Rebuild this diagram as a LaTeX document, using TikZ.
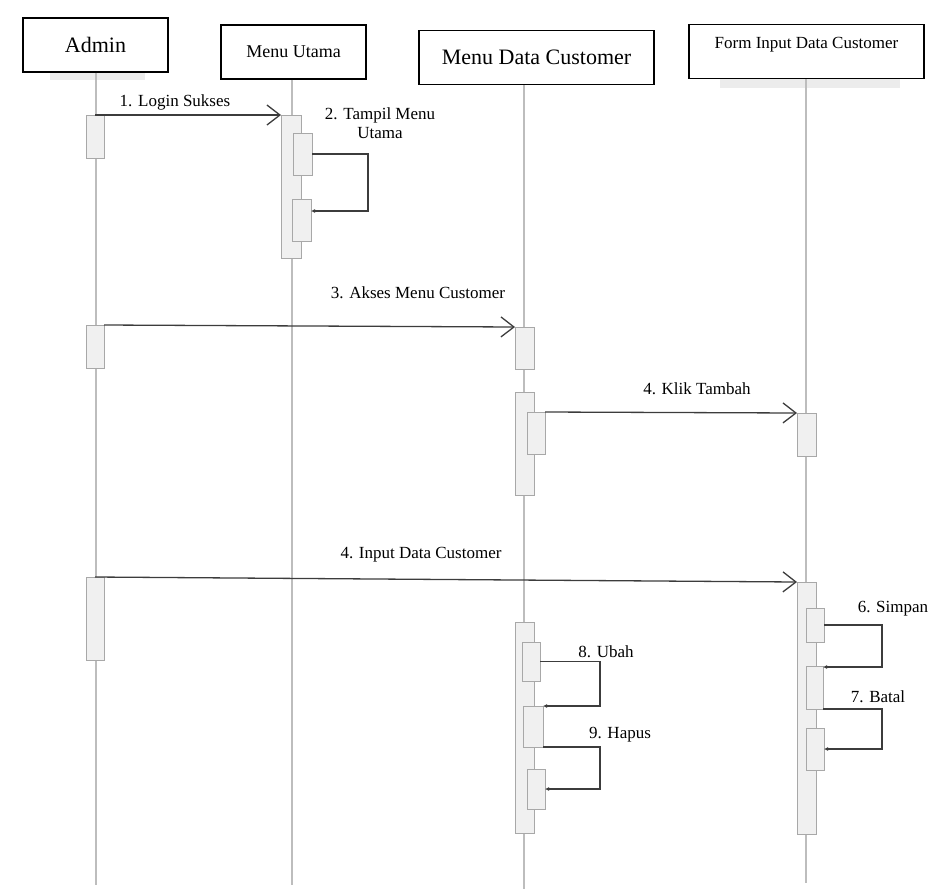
\documentclass[tikz,border=0pt]{standalone}
\usepackage{fontspec}
\setmainfont{Liberation Serif}
\usepackage{tikz}
\usetikzlibrary{arrows.meta}
\definecolor{lifegray}{HTML}{BDBDBD}
\definecolor{barfill}{HTML}{F0F0F0}
\definecolor{bargray}{HTML}{A8A8A8}
\definecolor{msggray}{HTML}{3C3C3C}

\begin{document}
\begin{tikzpicture}[x=1pt, y=-1pt,
  >={Straight Barb[length=13pt,width=20pt]},
  head/.style={draw=black, line width=1.6pt, fill=white, inner sep=0pt,
    minimum width=#1, minimum height=54pt},
  actbar/.style={draw=bargray, fill=barfill, line width=1pt, inner sep=0pt,
    outer sep=0pt, minimum width=19pt},
  lifeline/.style={draw=lifegray, line width=1.4pt},
  msg/.style={draw=msggray, line width=1.3pt, ->},
  selfmsg/.style={draw=msggray, line width=1.3pt, -{Latex[length=4pt,width=4pt]}},
  lbl/.style={inner sep=0pt, font=\fontsize{17}{19}\selectfont}]
  \useasboundingbox (0,0) rectangle (933,889);

  % shadows under the heads
  \fill[gray!15] (50,72) rectangle (145,80);
  \fill[gray!15] (720,79) rectangle (900,88);

  % lifeline heads
  \node[head=145pt, font=\fontsize{22}{24}\selectfont] (admin) at (95.5,45) {Admin};
  \node[head=145pt, font=\fontsize{18}{20}\selectfont] (utama) at (293.5,52) {Menu Utama};
  \node[head=235pt, font=\fontsize{22}{24}\selectfont] (mdc) at (536.5,57.5) {Menu Data Customer};
  \node[head=235pt, font=\fontsize{17}{19}\selectfont, text depth=17pt] (form) at (806.5,51.5) {Form Input Data Customer};

  % lifelines
  \coordinate (adminend) at (96,885);
  \coordinate (utamaend) at (292,885);
  \coordinate (mdcend) at (524,889);
  \coordinate (formend) at (806,883);
  \draw[lifeline] (admin.south -| adminend) -- (adminend);
  \draw[lifeline] (utama.south -| utamaend) -- (utamaend);
  \draw[lifeline] (mdc.south -| mdcend) -- (mdcend);
  \draw[lifeline] (form.south -| formend) -- (formend);

  % activation bars
  \node[actbar, minimum width=18pt, minimum height=43pt] (adm1) at (95,136.5) {};
  \node[actbar, minimum width=18pt, minimum height=43pt] (adm2) at (95,346.5) {};
  \node[actbar, minimum width=18pt, minimum height=83pt] (adm3) at (95,618.5) {};

  \node[actbar, minimum width=20pt, minimum height=143pt] (mu0) at (291,186.5) {};
  \node[actbar, minimum height=42pt] (mu1) at (302.5,154) {};
  \node[actbar, minimum height=42pt] (mu2) at (301.5,220) {};

  \node[actbar, minimum height=42pt] (mdc1) at (524.5,348) {};
  \node[actbar, minimum height=103pt] (mdc2) at (524.5,443.5) {};
  \node[actbar, minimum width=18pt, minimum height=42pt] (mdc2i) at (536,433) {};
  \node[actbar, minimum height=211pt] (mdc3) at (524.5,727.5) {};
  \node[actbar, minimum width=18pt, minimum height=39pt] (mdc31) at (531,661.5) {};
  \node[actbar, minimum width=20pt, minimum height=41pt] (mdc32) at (533,726.5) {};
  \node[actbar, minimum width=18pt, minimum height=40pt] (mdc33) at (536,789) {};

  \node[actbar, minimum height=43pt] (fi1) at (806.5,434.5) {};
  \node[actbar, minimum height=252pt] (fi2) at (806.5,708) {};
  \node[actbar, minimum width=18pt, minimum height=34pt] (fi21) at (815,625) {};
  \node[actbar, minimum width=17pt, minimum height=43pt] (fi22) at (814.5,687.5) {};
  \node[actbar, minimum width=18pt, minimum height=42pt] (fi23) at (815,749) {};

  % messages
  \draw[msg] (adm1.north) -- (mu0.north west);
  \draw[msg] (adm2.north east) -- (mdc1.north west);
  \draw[msg] (mdc2i.north east) -- (fi1.north west);
  \draw[msg] (adm3.north) -- (fi2.north west);

  % self messages
  \draw[selfmsg] (mu1.east) -- ++(56,0) |- ([yshift=9pt]mu2.east);
  \draw[selfmsg] (fi21.east) -- ++(58,0) |- ([yshift=-1pt]fi22.north east);
  \draw[selfmsg] (fi22.south east) -- ++(59,0) |- (fi23.east);
  \draw[selfmsg] (mdc31.east) -- ++(60,0) |- (mdc32.north east);
  \draw[selfmsg] (mdc32.south east) -- ++(57,0) |- (mdc33.east);

  % labels
  \node[lbl] (l1) at (175,102) {1. Login Sukses};
  \node[lbl, align=center] (l2) at (380,123) {2. Tampil Menu\\Utama};
  \node[lbl] (l3) at (418,293) {3. Akses Menu Customer};
  \node[lbl] (l4) at (697,389) {4. Klik Tambah};
  \node[lbl] (l5) at (421,555) {4. Input Data Customer};
  \node[lbl] (l6) at (893,609) {6. Simpan};
  \node[lbl] (l7) at (878,697) {7. Batal};
  \node[lbl] (l8) at (606,652) {8. Ubah};
  \node[lbl] (l9) at (620,735) {9. Hapus};
\end{tikzpicture}
\end{document}
